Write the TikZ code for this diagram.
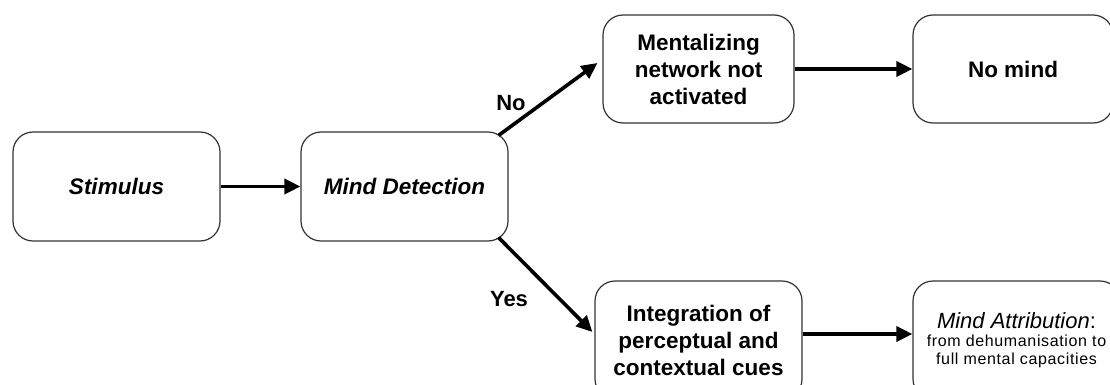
\documentclass[tikz,border=0pt]{standalone}
\usepackage{fontspec}
\setmainfont{Liberation Sans}
\usetikzlibrary{arrows.meta,calc}

\tikzset{
  box/.style={draw=black!80, line width=1.2pt, rounded corners=20pt, fill=white,
    align=center, inner sep=4pt, text=black,
    font=\fontsize{22.5}{27}\selectfont\bfseries},
  flow/.style={line width=3.6pt, -{Triangle[length=16pt,width=15pt]}},
  lbl/.style={font=\fontsize{22}{24}\selectfont\bfseries, text=black}
}

\begin{document}
\begin{tikzpicture}[x=1pt,y=-1pt]
  \useasboundingbox (0,0) rectangle (1110,385);
  \clip (0,0) rectangle (1110,385);

  % process boxes
  \node[box, minimum width=207pt, minimum height=109pt] (stim) at (116.5,186.5)
    {\itshape Stimulus};
  \node[box, minimum width=207pt, minimum height=109pt] (det) at (404.5,186.5)
    {\itshape Mind Detection};
  \node[box, minimum width=191pt, minimum height=108pt] (ment) at (698.5,69)
    {Mentalizing\\network not\\activated};
  \node[box, minimum width=200pt, minimum height=108pt] (nomind) at (1013,69)
    {No mind};
  % the lower row runs off the bottom edge
  \node[box, minimum width=207pt, minimum height=118pt] (integ) at (698.5,340)
    {Integration of\\perceptual and\\contextual cues};
  \node[box, minimum width=207pt, minimum height=118pt,
        font=\fontsize{16}{18}\selectfont\addfontfeatures{LetterSpace=4}] (attr) at (1016.5,340)
    {{\fontsize{22}{22}\selectfont\addfontfeatures{LetterSpace=0}\itshape Mind Attribution}{\fontsize{22}{22}\selectfont:}\\[0pt]
     from dehumanisation to\\full mental capacities};

  % branch points on the rounded corners of the detection box
  \coordinate (detUp) at ($(det.north east)+(-10,4)$);
  \coordinate (detDown) at ($(det.south east)+(-10,-4)$);
  \coordinate (mentIn) at ($(ment.west)+(-5,-6)$);
  \coordinate (integIn) at ($(integ.west)+(-2,-8)$);

  % connectors
  \draw[flow] (stim.east) -- (det.west);
  \draw[flow] (detUp) -- (mentIn);
  \draw[flow] (detDown) -- (integIn);
  \draw[flow] (ment.east) -- (nomind.west);
  \draw[flow] ([yshift=6pt]integ.east) -- ([yshift=6pt]attr.west);

  % branch labels
  \node[lbl] (no) at (511,103) {No};
  \node[lbl] (yes) at (509,299) {Yes};
\end{tikzpicture}
\end{document}
